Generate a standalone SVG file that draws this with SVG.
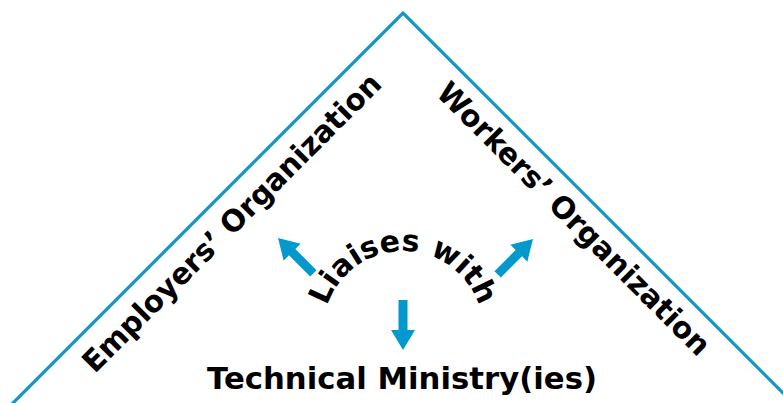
<svg xmlns="http://www.w3.org/2000/svg" xmlns:xlink="http://www.w3.org/1999/xlink" width="783" height="403" viewBox="0 0 783 403">
<style>
.lbl{font-family:"DejaVu Sans","Verdana",sans-serif;font-weight:bold;font-size:30px;fill:#000}
.roof{fill:none;stroke:#1596c8;stroke-width:3.2;stroke-linejoin:miter}
.arr{fill:#0499cc}
</style>
<defs>
<path id="arrow" d="M0,0 L12,20 L4.5,20 L4.5,50 L-4.5,50 L-4.5,20 L-12,20 Z"/>
<path id="arc" d="M323,331 A80,80 0 0 1 483,331"/>
</defs>
<rect width="783" height="403" fill="#fff"/>
<g id="roof">
<polyline class="roof" points="10,406 403,13 786,396"/>
</g>
<g id="employers">
<text class="lbl" transform="translate(239,230) rotate(-45)" text-anchor="middle" textLength="408" lengthAdjust="spacingAndGlyphs">Employers’ Organization</text>
</g>
<g id="workers">
<text class="lbl" transform="translate(566.5,226) rotate(45)" text-anchor="middle" textLength="372" lengthAdjust="spacingAndGlyphs">Workers’ Organization</text>
</g>
<g id="liaises">
<text class="lbl" font-size="28"><textPath href="#arc" xlink:href="#arc" startOffset="50%" text-anchor="middle">Liaises with</textPath></text>
</g>
<g id="ministry">
<text class="lbl" x="402" y="389" font-size="31" text-anchor="middle" textLength="390" lengthAdjust="spacingAndGlyphs">Technical Ministry(ies)</text>
</g>
<g id="connectors" class="arr">
<use href="#arrow" xlink:href="#arrow" transform="translate(278,238) rotate(-45)"/>
<use href="#arrow" xlink:href="#arrow" transform="translate(533,239) rotate(45)"/>
<use href="#arrow" xlink:href="#arrow" transform="translate(403,350) rotate(180)"/>
</g>
</svg>
